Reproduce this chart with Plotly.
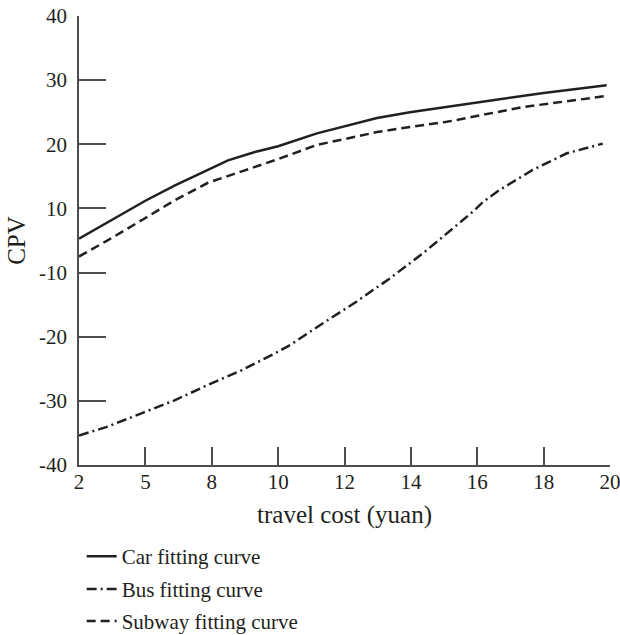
import numpy as np
import plotly.graph_objects as go

# Tick labels as printed on the chart
x_tick_labels = [2, 5, 8, 10, 12, 14, 16, 18, 20]
y_tick_labels = [-40, -30, -20, -10, 10, 20, 30, 40]

# Series (travel cost in yuan, CPV on the printed scale)
car_cost = [2, 3.31, 5, 6.34, 7.83, 8.49, 9.30, 10, 11.17, 12, 12.98, 13.97, 15.17, 16, 18, 19.9]
car_cpv = [0.6, 5.8, 11.2, 13.6, 16.0, 17.5, 18.8, 19.7, 21.7, 22.8, 24.1, 25.0, 25.9, 26.6, 28.0, 29.2]

bus_cost = [2, 3.31, 4.85, 6.34, 7.83, 8.91, 9.90, 10.36, 11.35, 12.37, 13.37, 14.36,
            15.27, 15.87, 16.17, 16.68, 17.67, 18.70, 19.78]
bus_cpv = [-35.4, -34.0, -31.9, -29.9, -27.5, -25.2, -22.6, -21.3, -17.9, -14.5, -10.9, -4.0,
           3.8, 9.0, 11.0, 12.9, 16.0, 18.6, 20.1]

subway_cost = [2, 3.31, 4.85, 6.34, 7.83, 9.21, 10, 11.17, 12, 12.98, 13.97, 15.08, 17.37, 19.85]
subway_cpv = [-5.0, 0.1, 6.4, 11.3, 14.0, 16.3, 17.7, 19.9, 20.8, 21.9, 22.7, 23.5, 25.8, 27.5]

series_names = ["Car fitting curve", "Bus fitting curve", "Subway fitting curve"]

# The printed axes are evenly spaced tick positions; map values onto them
x_pos_ticks = list(range(len(x_tick_labels)))
y_pos_ticks = list(range(len(y_tick_labels)))


def xp(v):
    return np.interp(v, x_tick_labels, x_pos_ticks)


def yp(v):
    return np.interp(v, y_tick_labels, y_pos_ticks)


INK = "#231f20"
AXIS = "#4d4d4f"
FONT = "Liberation Serif"
FS = 21

fig = go.Figure()
fig.add_trace(go.Scatter(x=xp(car_cost), y=yp(car_cpv), mode="lines", name=series_names[0],
                         line=dict(color=INK, width=2.5), legend="legend"))
fig.add_trace(go.Scatter(x=xp(bus_cost), y=yp(bus_cpv), mode="lines", name=series_names[1],
                         line=dict(color=INK, width=2.5, dash="10px,4px,2px,4px"), legend="legend2"))
fig.add_trace(go.Scatter(x=xp(subway_cost), y=yp(subway_cpv), mode="lines", name=series_names[2],
                         line=dict(color=INK, width=2.5, dash="9px,5px"), legend="legend3"))

leg_common = dict(x=0.005, xanchor="left", yanchor="middle", bgcolor="rgba(0,0,0,0)",
                  font=dict(family=FONT, size=FS, color=INK), borderwidth=0)

fig.update_layout(
    width=620, height=635,
    margin=dict(l=79, r=10, t=16, b=170, autoexpand=False),
    paper_bgcolor="white", plot_bgcolor="white",
    font=dict(family=FONT, size=FS, color=INK),
    showlegend=True,
    legend=dict(y=-0.204, **leg_common),
    legend2=dict(y=-0.277, **leg_common),
    legend3=dict(y=-0.348, **leg_common),
    xaxis=dict(range=[0, len(x_tick_labels) - 1], tickmode="array", tickvals=x_pos_ticks,
               ticktext=[str(v) for v in x_tick_labels], ticks="inside", ticklen=18, tickwidth=1.5,
               tickcolor=AXIS, showline=True, linecolor=AXIS, linewidth=1.5, showgrid=False,
               zeroline=False, ticklabelstandoff=-3, automargin=False, ticklabeloverflow="allow",
               title=dict(text="travel cost (yuan)", standoff=13),
               tickfont=dict(family=FONT, size=FS, color=INK)),
    yaxis=dict(range=[0, len(y_tick_labels) - 1], tickmode="array", tickvals=y_pos_ticks,
               ticktext=[str(v) for v in y_tick_labels], ticks="inside", ticklen=27, tickwidth=1.5,
               tickcolor=AXIS, showline=True, linecolor=AXIS, linewidth=1.5, showgrid=False,
               zeroline=False, ticklabelstandoff=6, automargin=False, ticklabeloverflow="allow",
               title=dict(text="CPV", standoff=6),
               tickfont=dict(family=FONT, size=FS, color=INK)),
)

fig.write_html("out.html", config={"displayModeBar": False},
               post_script="document.body.style.margin='0';")
